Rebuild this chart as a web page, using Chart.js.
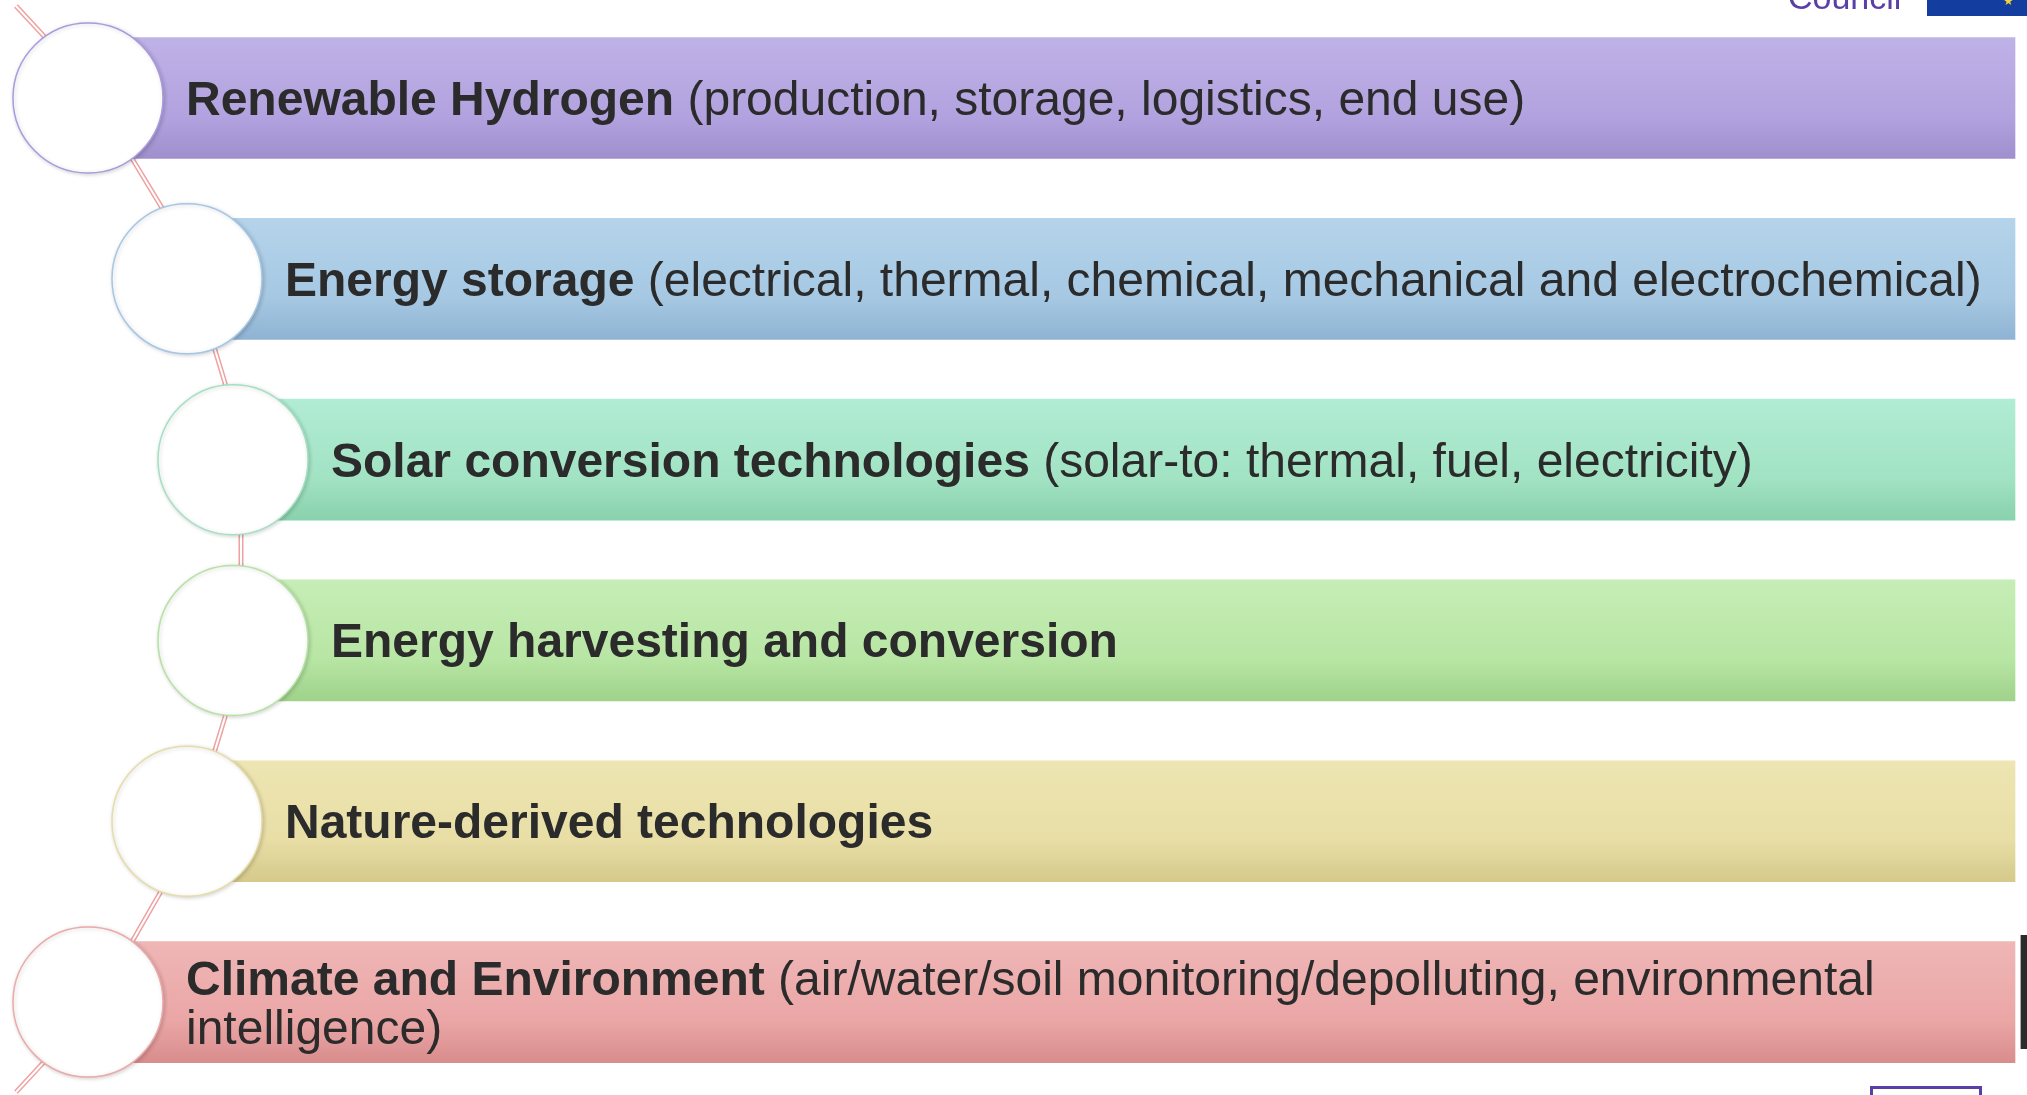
<!DOCTYPE html>
<html>
<head>
<meta charset="utf-8">
<script src="https://cdn.jsdelivr.net/npm/chart.js@4.4.1/dist/chart.umd.min.js"></script>
<style>
  html, body { margin: 0; padding: 0; background: #fff; overflow: hidden; }
  #wrap { position: relative; width: 2027px; height: 1095px; overflow: hidden; }
  #diagram { position: absolute; left: 0; top: 0; }
  .council { position: absolute; left: 1788px; top: -20px; font: 34px "Liberation Sans", Arial, sans-serif; line-height: 34px; color: #5b3fa6; }
  .flag { position: absolute; left: 1927px; top: 0; width: 100px; height: 16px; background: #133d9e; }
  .flag span { position: absolute; left: 76px; top: -6px; color: #f5d33a; font: 12px "DejaVu Sans", sans-serif; }
  .sidebar { position: absolute; left: 2020px; top: 935px; width: 7px; height: 114px; background: #2b2b2b; border-left: 1px solid #aaa; }
  .badge { position: absolute; left: 1870px; top: 1086px; width: 112px; height: 20px; border: 3px solid #5a3fa8; box-sizing: border-box; }
</style>
</head>
<body>
<div id="wrap">
  <canvas id="diagram" width="2027" height="1095"></canvas>
  <div class="council">Council</div>
  <div class="flag"><span>★</span></div>
  <div class="sidebar"></div>
  <div class="badge"></div>
</div>
<script>
// rows of the diagram, top to bottom
const titles = [
  "Renewable Hydrogen",
  "Energy storage",
  "Solar conversion technologies",
  "Energy harvesting and conversion",
  "Nature-derived technologies",
  "Climate and Environment"
];
const details = [
  "(production, storage, logistics, end use)",
  "(electrical, thermal, chemical, mechanical and electrochemical)",
  "(solar-to: thermal, fuel, electricity)",
  "",
  "",
  "(air/water/soil monitoring/depolluting, environmental intelligence)"
];

// where each circle sits along the x axis, and where the bars end
const indents = [88, 187, 233, 233, 187, 88];
const barEnd = 2015;

// connector path (x units, row units)
const pathX = [16, 43, 133, 162, 215, 225, 241, 241, 225, 215, 160, 133, 43, 16];
const pathY = [-0.509, -0.348, 0.343, 0.608, 1.394, 1.576, 2.417, 2.583, 3.424, 3.606, 4.397, 4.657, 5.337, 5.498];

const topColors = ["#bfb2e7", "#b5d4eb", "#b1ecd4", "#c6edb6", "#ede5b2", "#efb6b6"];
const midColors = ["#b2a2df", "#a6c8e3", "#a2e3c4", "#b8e6a4", "#e8dea6", "#eba6a6"];
const bottomColors = ["#9f8fcc", "#8fb3d3", "#8ad1ad", "#9fd28b", "#d5c98b", "#d98d8d"];
const ringColors = ["#aa9bdf", "#a5c7e6", "#a3e1c5", "#b6e3a4", "#e7dda6", "#ecaaaa"];

const ctx = document.getElementById("diagram").getContext("2d");

function barGradient(c) {
  const i = c.dataIndex;
  const ys = c.chart.scales.y;
  if (i === undefined || !ys) return midColors[0];
  const yc = ys.getPixelForValue(i);
  if (!isFinite(yc)) return midColors[i];
  const g = c.chart.ctx.createLinearGradient(0, yc - 60, 0, yc + 60);
  g.addColorStop(0, topColors[i]);
  g.addColorStop(0.65, midColors[i]);
  g.addColorStop(1, bottomColors[i]);
  return g;
}

const circleShadow = {
  id: "circleShadow",
  beforeDatasetDraw(chart, args) {
    if (args.index !== 3) return;
    chart.ctx.save();
    chart.ctx.shadowColor = "rgba(0,0,0,0.18)";
    chart.ctx.shadowBlur = 4;
    chart.ctx.shadowOffsetX = 1;
    chart.ctx.shadowOffsetY = 1;
  },
  afterDatasetDraw(chart, args) {
    if (args.index !== 3) return;
    chart.ctx.restore();
  }
};

const rowLabels = {
  id: "rowLabels",
  afterDatasetsDraw(chart) {
    const c = chart.ctx;
    const xs = chart.scales.x;
    const ys = chart.scales.y;
    const boldFont = "bold 48px 'Liberation Sans', Arial, sans-serif";
    const plainFont = "48px 'Liberation Sans', Arial, sans-serif";
    const right = 1998;
    c.save();
    c.fillStyle = "#2b2b2b";
    c.textBaseline = "alphabetic";
    titles.forEach((title, i) => {
      const x0 = xs.getPixelForValue(indents[i]) + 98;
      const tokens = [];
      title.split(" ").forEach(w => tokens.push({ w, font: boldFont }));
      if (details[i]) details[i].split(" ").forEach(w => tokens.push({ w, font: plainFont }));
      const lines = [[]];
      let x = x0;
      tokens.forEach(t => {
        c.font = t.font;
        const sp = c.measureText(" ").width;
        const tw = c.measureText(t.w).width;
        let cur = lines[lines.length - 1];
        const start = cur.length ? x + sp : x;
        if (cur.length && start + tw > right) {
          lines.push([]);
          cur = lines[lines.length - 1];
          x = x0;
          cur.push({ ...t, x });
          x += tw;
        } else {
          cur.push({ ...t, x: start });
          x = start + tw;
        }
      });
      const yc = ys.getPixelForValue(i);
      const lh = 49;
      lines.forEach((line, li) => {
        const base = yc + 17 + (li - (lines.length - 1) / 2) * lh;
        line.forEach(t => {
          c.font = t.font;
          c.fillText(t.w, t.x, base);
        });
      });
    });
    c.restore();
  }
};

new Chart(ctx, {
  type: "bar",
  data: {
    datasets: [
      {
        type: "line",
        data: pathX.map((x, i) => ({ x, y: pathY[i] })),
        borderColor: "#eea2a2",
        borderWidth: 5,
        pointRadius: 0,
        tension: 0,
        clip: false,
        order: 5
      },
      {
        type: "line",
        data: pathX.map((x, i) => ({ x, y: pathY[i] })),
        borderColor: "#ffffff",
        borderWidth: 2,
        pointRadius: 0,
        tension: 0,
        clip: false,
        order: 4
      },
      {
        type: "bar",
        data: titles.map((t, i) => ({ x: [indents[i], barEnd], y: i })),
        backgroundColor: barGradient,
        borderWidth: 0,
        borderSkipped: false,
        barThickness: 121,
        order: 3
      },
      {
        type: "scatter",
        data: indents.map((x, i) => ({ x, y: i })),
        pointRadius: 75,
        pointHoverRadius: 75,
        pointBackgroundColor: "#ffffff",
        pointBorderColor: ringColors,
        pointBorderWidth: 1.5,
        clip: false,
        order: 1
      }
    ]
  },
  options: {
    indexAxis: "y",
    responsive: false,
    animation: false,
    devicePixelRatio: 1,
    layout: { padding: 0, autoPadding: false },
    scales: {
      x: { type: "linear", min: 0, max: 2027, offset: false, display: false },
      y: { type: "linear", min: -0.542, max: 5.514, reverse: true, offset: false, display: false }
    },
    plugins: {
      legend: { display: false },
      tooltip: { enabled: false }
    }
  },
  plugins: [circleShadow, rowLabels]
});
</script>
</body>
</html>
